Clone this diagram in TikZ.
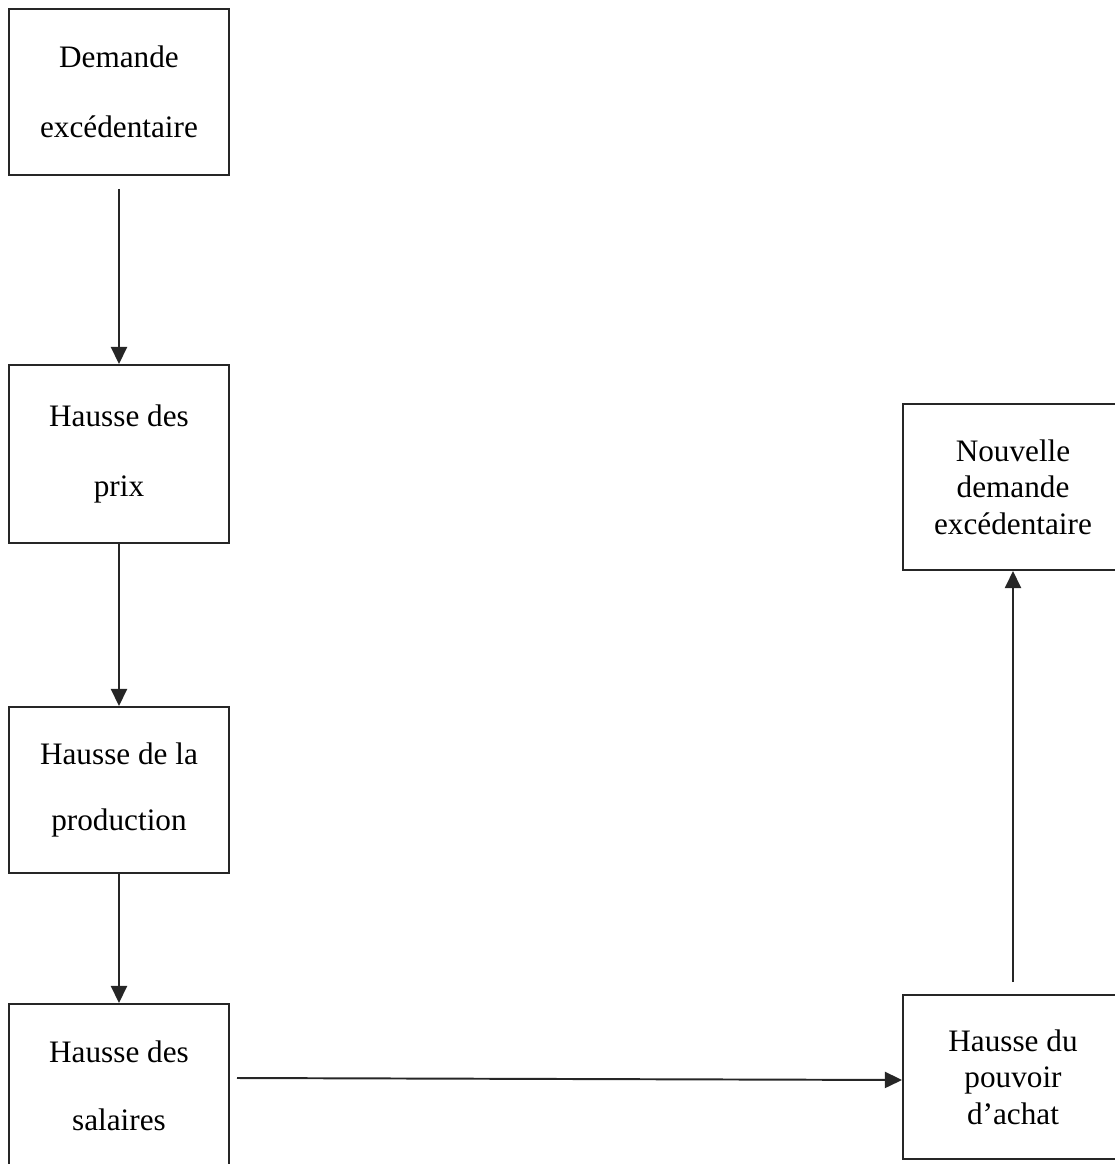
\documentclass[tikz,border=0pt]{standalone}
\usepackage{fontspec}
\setmainfont{Liberation Serif}
\usetikzlibrary{arrows.meta,calc}
\tikzset{
  etape/.style={draw=black!85,line width=0.75pt,minimum width=220*0.0135cm,align=center,inner sep=0pt,font=\fontsize{12}{14}\selectfont},
  fleche/.style={draw=black!85,line width=0.75pt,-{Triangle[length=6.6pt,width=6.2pt]}}
}
\begin{document}
\begin{tikzpicture}[x=0.0135cm,y=-0.0135cm]
        \useasboundingbox (0,0) rectangle (1115,1164);
        \clip (0,0) rectangle (1115,1164);
        \node[etape,minimum height=166*0.0135cm] (demande) at (119,92) {Demande\\[13pt]excédentaire};
        \node[etape,minimum height=178*0.0135cm] (prix) at (119,454) {Hausse des\\[13pt]prix};
        \node[etape,minimum height=166*0.0135cm] (production) at (119,790) {Hausse de la\\[11pt]production};
        \node[etape,minimum height=164*0.0135cm] (salaires) at (119,1086) {Hausse des\\[12pt]salaires};
        \node[etape,minimum height=164*0.0135cm] (pouvoir) at (1013,1077) {Hausse du\\pouvoir\\d’achat};
        \node[etape,minimum height=166*0.0135cm] (nouvelle) at (1013,487) {Nouvelle\\demande\\excédentaire};
        \coordinate (depart) at (237,1078);
        \draw[fleche,shorten <=13*0.0135cm] (demande) -- (prix);
        \draw[fleche] (prix) -- (production);
        \draw[fleche] (production) -- (salaires);
        \draw[fleche] (depart) -- ($(pouvoir.west)+(0,3)$);
        \draw[fleche,shorten <=12*0.0135cm] (pouvoir) -- (nouvelle);
\end{tikzpicture}
\end{document}
